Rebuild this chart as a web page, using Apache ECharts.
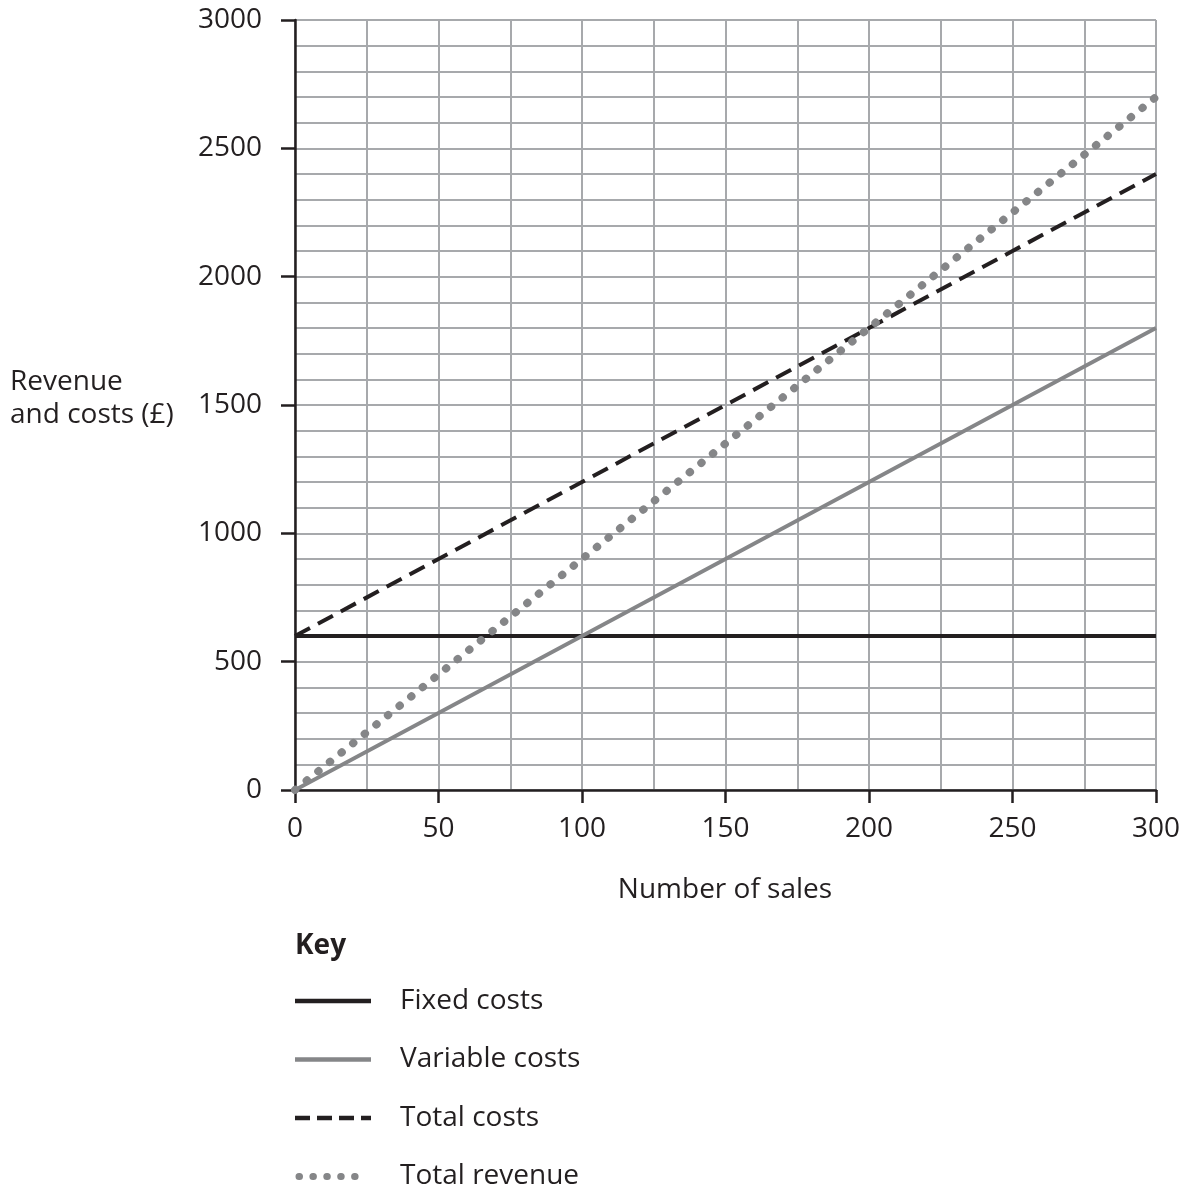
<!DOCTYPE html>
<html>
<head>
<meta charset="utf-8">
<script src="https://cdn.jsdelivr.net/npm/echarts@6/dist/echarts.min.js"></script>
<style>
  html, body { margin: 0; padding: 0; background: #fff; }
  #chart { width: 1186px; height: 1191px; }
</style>
</head>
<body>
<div id="chart"></div>
<script>
  // data
  const sales = [0, 50, 100, 150, 200, 250, 300]
  const fixedCosts = [600, 600, 600, 600, 600, 600, 600]
  const variableCosts = [0, 300, 600, 900, 1200, 1500, 1800]
  const totalCosts = [600, 900, 1200, 1500, 1800, 2100, 2400]
  const totalRevenue = [0, 450, 900, 1350, 1800, 2250, 2700]
  const seriesNames = ['Fixed costs', 'Variable costs', 'Total costs', 'Total revenue']

  const ink = '#231f20'
  const gridGrey = '#a7a9ac'
  const lineGrey = '#858688'
  const font = '"Open Sans", "Noto Sans", sans-serif'

  const pairs = (ys) => sales.map((x, i) => [x, ys[i]])

  const styles = [
    { color: ink, width: 4, type: 'solid', cap: 'butt' },
    { color: lineGrey, width: 3.8, type: 'solid', cap: 'butt' },
    { color: ink, width: 4, type: [17, 9], cap: 'butt' },
    { color: lineGrey, width: 8, type: [0.5, 14.4], cap: 'round' }
  ]
  const values = [fixedCosts, variableCosts, totalCosts, totalRevenue]

  let chart = echarts.init(document.getElementById('chart'))

  // key (legend) drawn by hand
  const keyItems = []
  keyItems.push({
    type: 'text',
    style: { text: 'Key', x: 295, y: 946, verticalAlign: 'middle', font: 'bold 28px ' + font, fill: ink }
  })
  seriesNames.forEach((name, i) => {
    const y = 1001 + i * 58.5
    const s = styles[i]
    keyItems.push({
      type: 'line',
      shape: { x1: i === 3 ? 299 : 295, y1: y, x2: i === 3 ? 367 : 371, y2: y },
      style: {
        stroke: s.color,
        lineWidth: i === 3 ? 7 : 4.5,
        lineDash: s.type === 'solid' ? null : (i === 2 ? [15, 7] : [0.5, 13.4]),
        lineCap: s.cap
      }
    })
    keyItems.push({
      type: 'text',
      style: { text: name, x: 400, y: y, verticalAlign: 'middle', font: '28px ' + font, fill: ink }
    })
  })

  chart.setOption({
    animation: false,
    backgroundColor: '#fff',
    grid: { left: 295, right: 30, top: 20, bottom: 401, containLabel: false },
    xAxis: {
      type: 'value',
      min: 0,
      max: 300,
      interval: 50,
      axisLine: { show: true, onZero: false, lineStyle: { color: ink, width: 2.5 } },
      axisTick: { show: true, length: 13, lineStyle: { color: ink, width: 2.5 } },
      axisLabel: { margin: 25, color: ink, fontSize: 28, fontFamily: font },
      splitLine: { show: true, lineStyle: { color: gridGrey, width: 2 } },
      minorTick: { show: false, splitNumber: 2 },
      minorSplitLine: { show: true, lineStyle: { color: gridGrey, width: 2 } }
    },
    yAxis: {
      type: 'value',
      min: 0,
      max: 3000,
      interval: 500,
      axisLine: { show: true, onZero: false, lineStyle: { color: ink, width: 2.5 } },
      axisTick: { show: true, length: 14, lineStyle: { color: ink, width: 2.5 } },
      axisLabel: { margin: 33, color: ink, fontSize: 28, fontFamily: font, formatter: (v) => String(v) },
      splitLine: { show: true, lineStyle: { color: gridGrey, width: 2 } },
      minorTick: { show: false, splitNumber: 5 },
      minorSplitLine: { show: true, lineStyle: { color: gridGrey, width: 2 } }
    },
    series: seriesNames.map((name, i) => ({
      name: name,
      type: 'line',
      data: pairs(values[i]),
      showSymbol: false,
      symbol: 'none',
      clip: false,
      z: 3 + i,
      lineStyle: { color: styles[i].color, width: styles[i].width, type: styles[i].type, cap: styles[i].cap }
    })),
    graphic: [
      {
        type: 'text',
        style: { text: 'Revenue', x: 10, y: 382, verticalAlign: 'middle', font: '28px ' + font, fill: ink }
      },
      {
        type: 'text',
        style: { text: 'and costs (£)', x: 10, y: 415, verticalAlign: 'middle', font: '28px ' + font, fill: ink }
      },
      {
        type: 'text',
        style: { text: 'Number of sales', x: 725, y: 890, align: 'center', verticalAlign: 'middle', font: '28px ' + font, fill: ink }
      }
    ].concat(keyItems)
  })
</script>
</body>
</html>
